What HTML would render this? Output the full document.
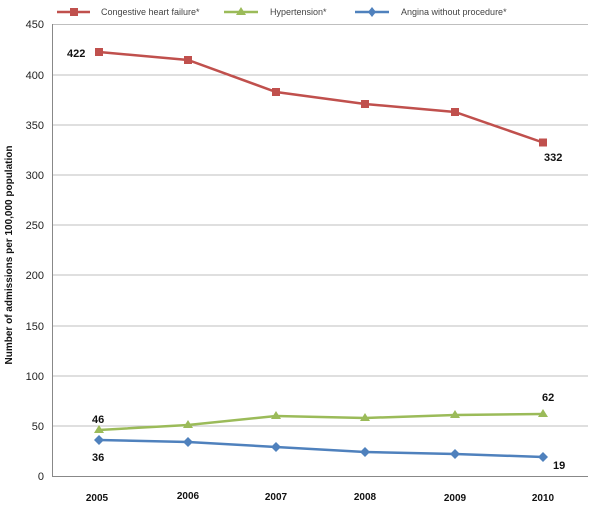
<!DOCTYPE html>
<html><head><meta charset="utf-8"><style>body{margin:0;background:#fff}svg{display:block}</style></head><body>
<svg width="600" height="511" xmlns="http://www.w3.org/2000/svg" font-family="Liberation Sans, sans-serif">
<g stroke="#bfbfbf" stroke-width="1">
<line x1="52" y1="24.5" x2="588" y2="24.5"/><line x1="52" y1="75" x2="588" y2="75"/><line x1="52" y1="125" x2="588" y2="125"/><line x1="52" y1="175" x2="588" y2="175"/><line x1="52" y1="225" x2="588" y2="225"/><line x1="52" y1="275" x2="588" y2="275"/><line x1="52" y1="326" x2="588" y2="326"/><line x1="52" y1="376" x2="588" y2="376"/><line x1="52" y1="426" x2="588" y2="426"/>
</g>
<line x1="52.5" y1="24" x2="52.5" y2="477" stroke="#888"/>
<line x1="52" y1="476.5" x2="588" y2="476.5" stroke="#888"/>
<g font-size="11" fill="#222" text-anchor="end">
<text x="44" y="28">450</text><text x="44" y="79">400</text><text x="44" y="129">350</text><text x="44" y="179">300</text><text x="44" y="229">250</text><text x="44" y="279">200</text><text x="44" y="330">150</text><text x="44" y="380">100</text><text x="44" y="430">50</text><text x="44" y="480">0</text>
</g>
<text transform="translate(12,255) rotate(-90)" font-size="10" font-weight="bold" text-anchor="middle" fill="#111">Number of admissions per 100,000 population</text>
<g font-size="10" font-weight="bold" fill="#111" text-anchor="middle">
<text x="97" y="501">2005</text><text x="188" y="499">2006</text><text x="276" y="500">2007</text><text x="365" y="500">2008</text><text x="455" y="501">2009</text><text x="543" y="501">2010</text>
</g>
<polyline fill="none" stroke="#c0504d" stroke-width="2.5" points="99,52 188,60 276,92 365,104 455,112 543,142.5"/>
<g fill="#c0504d"><rect x="95" y="48" width="8" height="8"/><rect x="184" y="56" width="8" height="8"/><rect x="272" y="88" width="8" height="8"/><rect x="361" y="100" width="8" height="8"/><rect x="451" y="108" width="8" height="8"/><rect x="539" y="138.5" width="8" height="8"/></g>
<polyline fill="none" stroke="#9bbb59" stroke-width="2.5" points="99,430 188,425 276,416 365,418 455,415 543,414"/>
<g fill="#9bbb59"><path d="M99,425 l5,8 h-10z"/><path d="M188,420 l5,8 h-10z"/><path d="M276,411 l5,8 h-10z"/><path d="M365,413 l5,8 h-10z"/><path d="M455,410 l5,8 h-10z"/><path d="M543,409 l5,8 h-10z"/></g>
<polyline fill="none" stroke="#4f81bd" stroke-width="2.5" points="99,440 188,442 276,447 365,452 455,454 543,457"/>
<g fill="#4f81bd"><path d="M99,435 l5,5 -5,5 -5,-5z"/><path d="M188,437 l5,5 -5,5 -5,-5z"/><path d="M276,442 l5,5 -5,5 -5,-5z"/><path d="M365,447 l5,5 -5,5 -5,-5z"/><path d="M455,449 l5,5 -5,5 -5,-5z"/><path d="M543,452 l5,5 -5,5 -5,-5z"/></g>
<g font-size="11" font-weight="bold" fill="#111">
<text x="67" y="57">422</text><text x="544" y="161">332</text><text x="92" y="423">46</text><text x="542" y="401">62</text><text x="92" y="461">36</text><text x="553" y="469">19</text>
</g>
<g font-size="9" fill="#444">
<line x1="57" y1="12" x2="90" y2="12" stroke="#c0504d" stroke-width="2.5"/><rect x="70" y="8" width="8" height="8" fill="#c0504d"/><text x="101" y="15">Congestive heart failure*</text>
<line x1="224" y1="12" x2="258" y2="12" stroke="#9bbb59" stroke-width="2.5"/><path d="M241,7 l5,8 h-10z" fill="#9bbb59"/><text x="270" y="15">Hypertension*</text>
<line x1="355" y1="12" x2="389" y2="12" stroke="#4f81bd" stroke-width="2.5"/><path d="M372,7 l4,5 -4,5 -4,-5z" fill="#4f81bd"/><text x="401" y="15">Angina without procedure*</text>
</g>
</svg>
</body></html>
